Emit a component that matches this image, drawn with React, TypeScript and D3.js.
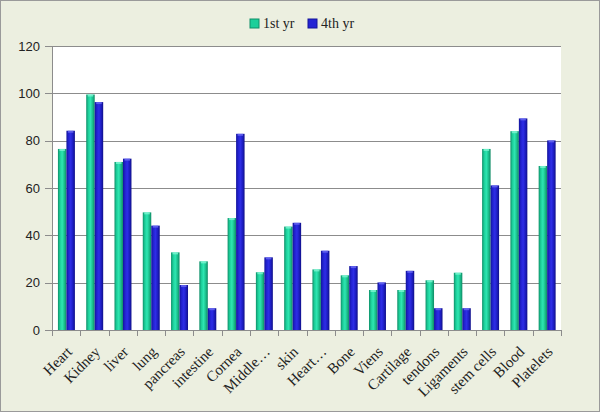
import { useEffect, useRef } from 'react';
import * as d3 from 'd3';

const categories = ['Heart', 'Kidney', 'liver', 'lung', 'pancreas', 'intestine', 'Cornea', 'Middle…', 'skin', 'Heart…', 'Bone', 'Viens', 'Cartilage', 'tendons', 'Ligaments', 'stem cells', 'Blood', 'Platelets'];
const firstYear = [76.5, 99.5, 71, 49.7, 32.8, 29, 47.3, 24.4, 43.7, 25.6, 23.1, 16.9, 16.9, 21, 24.2, 76.5, 84, 69.3];
const fourthYear = [84.2, 96.3, 72.4, 44.1, 19, 9.2, 82.9, 30.7, 45.3, 33.5, 27, 20.1, 25, 9.2, 9.2, 61.1, 89.4, 80.1];
const seriesNames = ['1st yr', '4th yr'];
const yTicks = [0, 20, 40, 60, 80, 100, 120];

export default function App() {
  const svgRef = useRef<SVGSVGElement | null>(null);

  useEffect(() => {
    if (!svgRef.current) return;
    const svg = d3.select(svgRef.current);
    svg.selectAll('*').remove();

    const W = 600, H = 412;
    const margin = { top: 46, right: 39, bottom: 82, left: 52 };
    const width = W - margin.left - margin.right;
    const height = H - margin.top - margin.bottom;

    // gradients for the glossy bars
    const defs = svg.append('defs');
    const mkGrad = (id: string, stops: string[]) => {
      const gr = defs.append('linearGradient').attr('id', id).attr('x1', '0').attr('x2', '1').attr('y1', '0').attr('y2', '0');
      stops.forEach((c, i) => gr.append('stop').attr('offset', `${(i / (stops.length - 1)) * 100}%`).attr('stop-color', c));
    };
    mkGrad('g0', ['#0f8f69', '#1ccf9a', '#2ee6b2', '#1bbf8c', '#0e8a64']);
    mkGrad('g1', ['#14149a', '#2222d0', '#2e2ee6', '#1e1ec4', '#101088']);
    const colors = ['url(#g0)', 'url(#g1)'];
    const legendColors = ['#1ccf9a', '#2424d4'];
    const capColors = ['#7ff5d2', '#6a6af0'];

    // background panel
    svg.append('rect')
      .attr('x', 0.5).attr('y', 0.5).attr('width', W - 1).attr('height', H - 1)
      .attr('fill', '#ecefe0').attr('stroke', '#9a9a9a');

    const g = svg.append('g').attr('transform', `translate(${margin.left},${margin.top})`);

    g.append('rect').attr('width', width).attr('height', height).attr('fill', '#ffffff');

    const x = d3.scaleBand().domain(categories).range([0, width]).paddingInner(0).paddingOuter(0);
    const inner = d3.scaleBand().domain(['0', '1']).range([x.bandwidth() * 0.21, x.bandwidth() * 0.81]);
    const y = d3.scaleLinear().domain([0, 120]).range([height, 0]);

    // gridlines
    g.selectAll('.grid')
      .data(yTicks.filter(t => t > 0))
      .enter()
      .append('line')
      .attr('x1', -7).attr('x2', width)
      .attr('y1', d => Math.round(y(d)) + 0.5).attr('y2', d => Math.round(y(d)) + 0.5)
      .attr('stroke', '#8c8c8c');

    // y labels
    g.selectAll('.ylab')
      .data(yTicks)
      .enter()
      .append('text')
      .attr('x', -12)
      .attr('y', d => y(d))
      .attr('dy', '0.35em')
      .attr('text-anchor', 'end')
      .style('font-family', '"Liberation Sans", Arial, sans-serif')
      .style('font-size', '13px')
      .attr('fill', '#222')
      .text(d => d);

    // bars
    const series = [firstYear, fourthYear];
    series.forEach((vals, si) => {
      const grp = g.append('g');
      grp.selectAll('rect')
        .data(vals)
        .enter()
        .append('rect')
        .attr('x', (d, i) => x(categories[i])! + inner(String(si))!)
        .attr('y', d => y(d))
        .attr('width', inner.bandwidth())
        .attr('height', d => height - y(d))
        .attr('fill', colors[si]);
      grp.selectAll('.cap')
        .data(vals)
        .enter()
        .append('rect')
        .attr('x', (d, i) => x(categories[i])! + inner(String(si))! + 1.5)
        .attr('y', d => y(d))
        .attr('width', inner.bandwidth() - 3)
        .attr('height', 2)
        .attr('fill', capColors[si])
        .attr('opacity', 0.8);
    });

    // axes lines
    g.append('line').attr('x1', 0.5).attr('x2', 0.5).attr('y1', 0).attr('y2', height).attr('stroke', '#8c8c8c');
    g.append('line').attr('x1', -7).attr('x2', width).attr('y1', height + 0.5).attr('y2', height + 0.5).attr('stroke', '#8c8c8c');

    // x ticks at category boundaries
    const bounds = categories.map(c => x(c)!).concat([width]);
    g.selectAll('.xtick')
      .data(bounds)
      .enter()
      .append('line')
      .attr('x1', d => Math.round(d) + 0.5).attr('x2', d => Math.round(d) + 0.5)
      .attr('y1', height).attr('y2', height + 6)
      .attr('stroke', '#8c8c8c');

    // x labels
    g.selectAll('.xlab')
      .data(categories)
      .enter()
      .append('text')
      .attr('transform', d => `translate(${x(d)! + x.bandwidth() / 2 + 3},${height + 19}) rotate(-45)`)
      .attr('text-anchor', 'end')
      .attr('dy', '0.35em')
      .style('font-family', '"Liberation Serif", "Times New Roman", serif')
      .style('font-size', '15px')
      .attr('fill', '#222')
      .text(d => d);

    // legend
    const legend = svg.append('g').attr('transform', 'translate(250, 19)');
    const offsets = [0, 58];
    seriesNames.forEach((name, i) => {
      const row = legend.append('g').attr('transform', `translate(${offsets[i]},0)`);
      row.append('rect').attr('width', 9).attr('height', 9).attr('fill', legendColors[i]).attr('stroke', i === 0 ? '#0f8f69' : '#14149a');
      row.append('text')
        .attr('x', 13).attr('y', 9)
        .style('font-family', '"Liberation Serif", "Times New Roman", serif')
        .style('font-size', '14px')
        .attr('fill', '#222')
        .text(name);
    });
  }, []);

  return (
    <div style={{ position: 'fixed', left: 0, top: 0 }}>
      <svg ref={svgRef} width={600} height={412} style={{ display: 'block' }} />
    </div>
  );
}
